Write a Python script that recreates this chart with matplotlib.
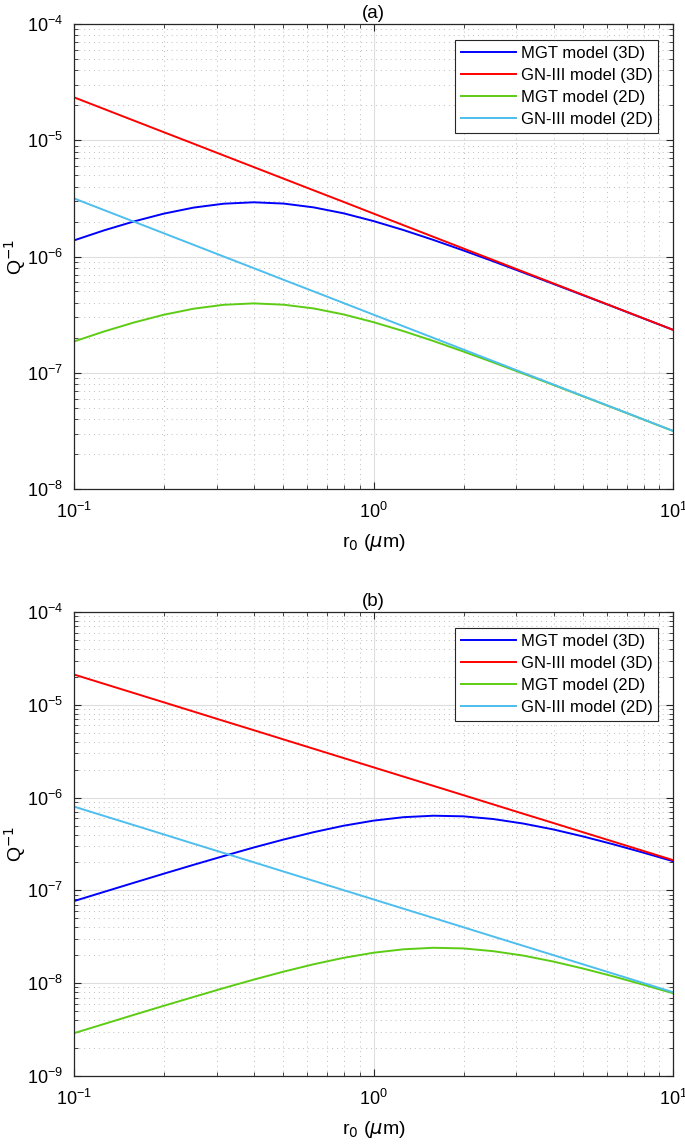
import numpy as np

import matplotlib

matplotlib.use("Agg")
import matplotlib.pyplot as plt  # noqa: E402
from matplotlib.ticker import LogLocator, NullFormatter  # noqa: E402

plt.rcParams["font.family"] = ["Liberation Sans", "DejaVu Sans"]
plt.rcParams["mathtext.fontset"] = "dejavusans"
plt.rcParams["axes.unicode_minus"] = False

# radius r0 (um), sampled every 0.1 decade
r0 = [0.1, 0.1259, 0.1585, 0.1995, 0.2512, 0.3162, 0.3981, 0.5012, 0.631, 0.7943,
      1.0, 1.259, 1.585, 1.995, 2.512, 3.162, 3.981, 5.012, 6.31, 7.943, 10.0]

# panel (a)
mgt_3d_a = [1.376e-6, 1.677e-6, 2.003e-6, 2.337e-6, 2.636e-6, 2.846e-6, 2.926e-6,
            2.853e-6, 2.646e-6, 2.353e-6, 2.017e-6, 1.689e-6, 1.388e-6, 1.128e-6,
            9.09e-7, 7.28e-7, 5.82e-7, 4.64e-7, 3.70e-7, 2.94e-7, 2.34e-7]
gn3_3d_a = [2.34e-5, 1.859e-5, 1.476e-5, 1.173e-5, 9.32e-6, 7.40e-6, 5.88e-6,
            4.67e-6, 3.71e-6, 2.95e-6, 2.34e-6, 1.859e-6, 1.476e-6, 1.173e-6,
            9.32e-7, 7.40e-7, 5.88e-7, 4.67e-7, 3.71e-7, 2.95e-7, 2.34e-7]
mgt_2d_a = [1.858e-7, 2.264e-7, 2.706e-7, 3.155e-7, 3.558e-7, 3.842e-7, 3.951e-7,
            3.849e-7, 3.574e-7, 3.175e-7, 2.724e-7, 2.280e-7, 1.875e-7, 1.523e-7,
            1.227e-7, 9.83e-8, 7.86e-8, 6.26e-8, 4.99e-8, 3.97e-8, 3.155e-8]
gn3_2d_a = [3.16e-6, 2.51e-6, 1.994e-6, 1.584e-6, 1.258e-6, 9.99e-7, 7.94e-7,
            6.30e-7, 5.01e-7, 3.98e-7, 3.16e-7, 2.51e-7, 1.994e-7, 1.584e-7,
            1.258e-7, 9.99e-8, 7.94e-8, 6.30e-8, 5.01e-8, 3.98e-8, 3.16e-8]

# panel (b)
mgt_3d_b = [7.67e-8, 9.63e-8, 1.209e-7, 1.514e-7, 1.890e-7, 2.346e-7, 2.899e-7,
            3.534e-7, 4.240e-7, 4.974e-7, 5.646e-7, 6.150e-7, 6.381e-7, 6.282e-7,
            5.874e-7, 5.253e-7, 4.541e-7, 3.812e-7, 3.143e-7, 2.558e-7, 2.063e-7]
gn3_3d_b = [2.12e-5, 1.684e-5, 1.338e-5, 1.063e-5, 8.44e-6, 6.70e-6, 5.33e-6,
            4.23e-6, 3.36e-6, 2.67e-6, 2.12e-6, 1.684e-6, 1.338e-6, 1.063e-6,
            8.44e-7, 6.70e-7, 5.33e-7, 4.23e-7, 3.36e-7, 2.67e-7, 2.12e-7]
mgt_2d_b = [2.893e-9, 3.632e-9, 4.562e-9, 5.710e-9, 7.120e-9, 8.860e-9, 1.093e-8,
            1.333e-8, 1.600e-8, 1.876e-8, 2.130e-8, 2.319e-8, 2.408e-8, 2.370e-8,
            2.213e-8, 1.984e-8, 1.712e-8, 1.438e-8, 1.186e-8, 9.65e-9, 7.79e-9]
gn3_2d_b = [8.0e-7, 6.35e-7, 5.05e-7, 4.01e-7, 3.18e-7, 2.53e-7, 2.01e-7,
            1.596e-7, 1.268e-7, 1.007e-7, 8.0e-8, 6.35e-8, 5.05e-8, 4.01e-8,
            3.18e-8, 2.53e-8, 2.01e-8, 1.596e-8, 1.268e-8, 1.007e-8, 8.0e-9]

labels = ["MGT model (3D)", "GN-III model (3D)", "MGT model (2D)", "GN-III model (2D)"]
colors = ["#0000ff", "#ff0000", "#5ccc14", "#4dbeee"]
panels = [
    ("(a)", (1e-8, 1e-4), [mgt_3d_a, gn3_3d_a, mgt_2d_a, gn3_2d_a]),
    ("(b)", (1e-9, 1e-4), [mgt_3d_b, gn3_3d_b, mgt_2d_b, gn3_2d_b]),
]

W, H = 685, 1144
fig = plt.figure(figsize=(W / 100, H / 100), dpi=100)
boxes = [(74, 24, 673, 489), (74, 612, 673, 1076)]

for (title, ylim, series), (x0, y0, x1, y1) in zip(panels, boxes):
    ax = fig.add_axes([x0 / W, 1 - y1 / H, (x1 - x0) / W, (y1 - y0) / H])
    for values, label, color in zip(series, labels, colors):
        ax.plot(r0, values, color=color, linewidth=1.4, label=label)
    ax.set_xscale("log")
    ax.set_yscale("log")
    ax.set_xlim(0.1, 10)
    ax.set_ylim(*ylim)
    ax.xaxis.set_major_locator(LogLocator(base=10, numticks=10))
    ax.yaxis.set_major_locator(LogLocator(base=10, numticks=10))
    for axis in (ax.xaxis, ax.yaxis):
        axis.set_minor_locator(LogLocator(base=10, subs=np.arange(2, 10), numticks=20))
        axis.set_minor_formatter(NullFormatter())
    ax.grid(True, which="major", color="#dedede", linewidth=0.8, linestyle="-")
    ax.grid(True, which="minor", color="#bdbdbd", linewidth=0.7, linestyle=(0, (1, 4)))
    ax.set_axisbelow(True)
    ax.tick_params(which="both", direction="in", top=True, right=True, colors="#262626",
                   labelcolor="black", labelsize=13)
    ax.tick_params(which="major", length=5, width=0.8)
    ax.tick_params(which="minor", length=3, width=0.6)
    ax.tick_params(axis="x", pad=9.5)
    ax.tick_params(axis="y", pad=8)
    for spine in ax.spines.values():
        spine.set_color("#262626")
        spine.set_linewidth(0.9)
    ax.set_title(title, fontsize=13.5, pad=4)
    ax.set_xlabel(r"r$_0$ ($\mu$m)", fontsize=14, labelpad=7)
    ax.set_ylabel(r"Q$^{-1}$", fontsize=14, labelpad=-1)
    leg = ax.legend(loc="upper right", bbox_to_anchor=(0.9755, 0.9656), borderaxespad=0,
                    fontsize=12, fancybox=False, framealpha=1, edgecolor="#262626",
                    handlelength=3.3, handletextpad=0.3, borderpad=0.35, labelspacing=0.42)
    leg.get_frame().set_linewidth(0.8)

fig.savefig("out.png", dpi=100)
